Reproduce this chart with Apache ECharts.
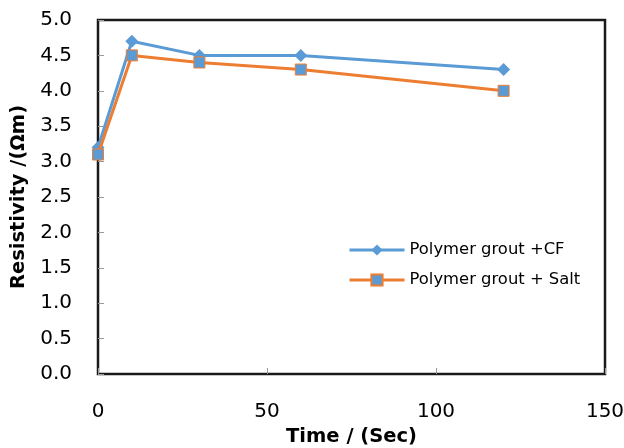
<!DOCTYPE html>
<html>
<head>
<meta charset="utf-8">
<script src="https://cdn.jsdelivr.net/npm/echarts@6/dist/echarts.min.js"></script>
<style>
  html, body { margin: 0; padding: 0; background: #fff; }
  #chart { width: 624px; height: 448px; }
</style>
</head>
<body>
<div id="chart"></div>
<script>
// time in seconds
const timeSec = [0, 10, 30, 60, 120]
const cfValues = [3.2, 4.7, 4.5, 4.5, 4.3]
const saltValues = [3.1, 4.5, 4.4, 4.3, 4.0]
const seriesNames = ['Polymer grout +CF', 'Polymer grout + Salt']

const chart = echarts.init(document.getElementById('chart'))
const fontFamily = '"DejaVu Sans", sans-serif'

const toPairs = (xs, ys) => xs.map((x, i) => [x, ys[i]])

const option = {
  animation: false,
  backgroundColor: '#fff',
  textStyle: { fontFamily },
  grid: {
    left: 98,
    right: 19,
    top: 20,
    bottom: 74,
    outerBoundsMode: 'none',
    show: true,
    borderColor: '#1a1a1a',
    borderWidth: 2.5,
    backgroundColor: 'transparent'
  },
  legend: {
    orient: 'vertical',
    left: 343,
    top: 237,
    itemWidth: 55,
    itemHeight: 14,
    itemGap: 14,
    data: seriesNames,
    lineStyle: { width: 3 },
    textStyle: { fontSize: 16.4, color: '#000', fontFamily }
  },
  xAxis: {
    type: 'value',
    min: 0,
    max: 150,
    interval: 50,
    name: 'Time / (Sec)',
    nameLocation: 'middle',
    nameGap: 50,
    nameTextStyle: { fontSize: 19.5, fontWeight: 'bold', color: '#000', fontFamily },
    axisLine: { show: false },
    axisTick: { show: true, inside: true, length: 6, lineStyle: { color: '#999' } },
    axisLabel: { fontSize: 20, color: '#000', margin: 28, fontFamily },
    splitLine: { show: false }
  },
  yAxis: {
    type: 'value',
    min: 0,
    max: 5,
    interval: 0.5,
    name: 'Resistivity /(Ωm)',
    nameLocation: 'middle',
    nameGap: 66,
    nameTextStyle: { fontSize: 19.5, fontWeight: 'bold', color: '#000', fontFamily },
    axisLine: { show: false },
    axisTick: { show: true, inside: true, length: 6, lineStyle: { color: '#999' } },
    axisLabel: {
      fontSize: 20,
      color: '#000',
      margin: 26,
      fontFamily,
      formatter: v => v.toFixed(1)
    },
    splitLine: { show: false }
  },
  series: [
    {
      name: seriesNames[0],
      type: 'line',
      data: toPairs(timeSec, cfValues),
      symbol: 'diamond',
      symbolSize: 13,
      lineStyle: { color: '#5B9BD5', width: 3 },
      itemStyle: { color: '#5B9BD5' },
      z: 2
    },
    {
      name: seriesNames[1],
      type: 'line',
      data: toPairs(timeSec, saltValues),
      symbol: 'rect',
      symbolSize: 11,
      lineStyle: { color: '#ED7D31', width: 3 },
      itemStyle: { color: '#5B9BD5', borderColor: '#ED7D31', borderWidth: 1 },
      z: 3
    }
  ]
}

chart.setOption(option)
</script>
</body>
</html>
